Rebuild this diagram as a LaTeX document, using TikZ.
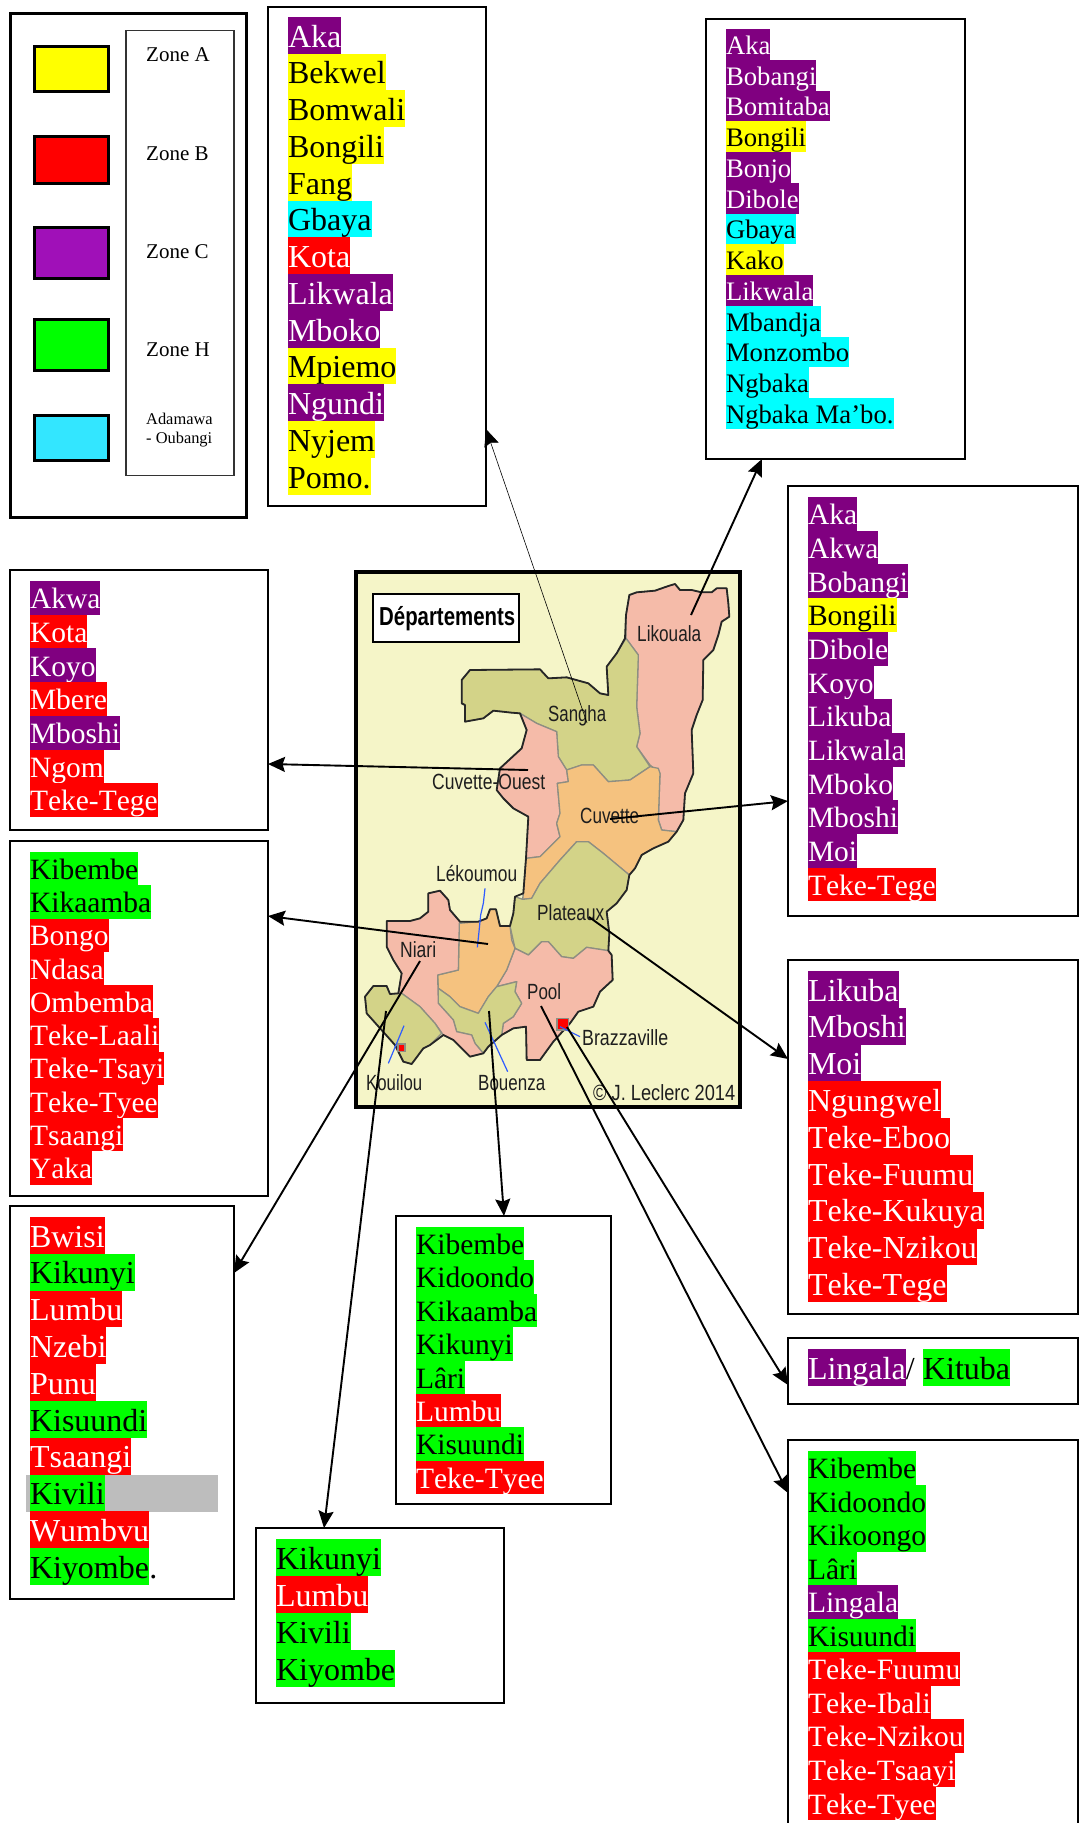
\documentclass[tikz,border=0pt]{standalone}
\usepackage{fontspec}
\usepackage{graphicx}
\usetikzlibrary{arrows.meta}
\setmainfont[Kerning=Off]{Liberation Serif}
\newfontfamily\mapfont{Liberation Sans}
\definecolor{bgP}{HTML}{800080}\definecolor{fgP}{HTML}{FFFFFF}
\definecolor{bgR}{HTML}{FF0000}\definecolor{fgR}{HTML}{FFFFFF}
\definecolor{bgY}{HTML}{FFFF00}\definecolor{fgY}{HTML}{000000}
\definecolor{bgG}{HTML}{00FF00}\definecolor{fgG}{HTML}{000000}
\definecolor{bgC}{HTML}{00FFFF}\definecolor{fgC}{HTML}{000000}
\definecolor{mapbg}{HTML}{F5F5C8}
\definecolor{mappink}{HTML}{F5BBA9}
\definecolor{mapolive}{HTML}{D3D388}
\definecolor{maporange}{HTML}{F5C27F}
\definecolor{mapgrey}{HTML}{8E8E82}
\definecolor{mapink}{HTML}{1E1E1E}
\definecolor{riverblue}{HTML}{2F5CFF}
\tikzset{
  listbox/.style={draw=black,line width=2pt,fill=white,inner sep=0pt,outer sep=0pt,anchor=north west},
  swatch/.style={draw=black,line width=3pt,inner sep=0pt,outer sep=0pt,anchor=north west},
  langitem/.style={inner sep=0pt,outer sep=0pt,anchor=north west},
  zonetext/.style={inner sep=0pt,anchor=base west,font=\fontsize{21pt}{21pt}\selectfont},
  zonesmall/.style={inner sep=0pt,anchor=base west,font=\fontsize{16.4pt}{16.4pt}\selectfont},
  maptext/.style={inner sep=0pt,anchor=base west,text=mapink,font=\fontsize{22pt}{22pt}\selectfont},
  region/.style={draw=mapgrey,line width=1.3pt,line join=round},
  coast/.style={draw=black!85,line width=1.8pt,line join=round},
  river/.style={draw=riverblue,line width=1.2pt},
  link/.style={-{Stealth[length=17pt,width=15pt,inset=2.5pt]},line width=1.9pt,black},
  thinlink/.style={-{Stealth[length=17pt,width=15pt,inset=2.5pt]},line width=0.6pt,black},
}
% #1 prefix, #2 x, #3 top y, #4 pitch, #5 font size, #6 list
\newcommand{\langlist}[6]{%
  \foreach \ltxt/\lcol [count=\i] in {#6}{%
    \node[langitem,fill=bg\lcol,text=fg\lcol,
      text height=0.82*#4pt,text depth=0.18*#4pt,
      font=\fontsize{#5pt}{#5pt}\selectfont] (#1\i) at ({#2},{#3+(\i-1)*#4}) {\ltxt};
  }%
}
\newcommand{\maplab}[5]{\node[maptext] (#1) at (#2,#3) {\resizebox{#4pt}{\height}{\mapfont #5}};}
\begin{document}
\begin{tikzpicture}[x=1pt,y=-1pt]
\useasboundingbox (0,0) rectangle (1079,1823);
\fill[white] (0,0) rectangle (1079,1823);

% ---------- legend ----------
\node[listbox,line width=3pt,minimum width=236pt,minimum height=504pt] (legend) at (10,13) {};
\node[swatch,fill=bgY,minimum width=73.5pt,minimum height=45pt] (swA) at (34.5,46) {};
\node[swatch,fill=bgR,minimum width=73.5pt,minimum height=47pt] (swB) at (34.5,136) {};
\node[swatch,fill={rgb,255:red,160;green,16;blue,184},minimum width=73.5pt,minimum height=51pt] (swC) at (34.5,227) {};
\node[swatch,fill=bgG,minimum width=73.5pt,minimum height=51pt] (swH) at (34.5,319) {};
\node[swatch,fill={rgb,255:red,51;green,230;blue,255},minimum width=73.5pt,minimum height=45pt] (swO) at (34.5,415) {};
\node[listbox,line width=1.4pt,draw=black!80,minimum width=108pt,minimum height=445pt] (zonebox) at (126,30.5) {};
\node[zonetext] (zA) at (146,61) {Zone A};
\node[zonetext] (zB) at (146,160) {Zone B};
\node[zonetext] (zC) at (146,258) {Zone C};
\node[zonetext] (zH) at (146,356) {Zone H};
\node[zonesmall] (zO1) at (146,424) {Adamawa};
\node[zonesmall] (zO2) at (146,443) {- Oubangi};

% ---------- list boxes ----------
\node[listbox,minimum width=218pt,minimum height=498.5pt] (boxA) at (268,7) {};
\langlist{a}{288}{17}{36.74}{32}{Aka/P,Bekwel/Y,Bomwali/Y,Bongili/Y,Fang/Y,Gbaya/C,Kota/R,Likwala/P,Mboko/P,Mpiemo/Y,Ngundi/P,Nyjem/Y,Pomo./Y}

\node[listbox,minimum width=259pt,minimum height=440pt] (boxB) at (706,19) {};
\langlist{b}{726}{29}{30.77}{26.7}{Aka/P,Bobangi/P,Bomitaba/P,Bongili/Y,Bonjo/P,Dibole/P,Gbaya/C,Kako/Y,Likwala/P,Mbandja/C,Monzombo/C,Ngbaka/C,Ngbaka Ma’bo./C}

\node[listbox,minimum width=290pt,minimum height=430pt] (boxC) at (788,486) {};
\langlist{c}{808}{497}{33.7}{29.5}{Aka/P,Akwa/P,Bobangi/P,Bongili/Y,Dibole/P,Koyo/P,Likuba/P,Likwala/P,Mboko/P,Mboshi/P,Moi/P,Teke-Tege/R}

\node[listbox,minimum width=290pt,minimum height=354pt] (boxD) at (788,960) {};
\langlist{d}{808}{971}{36.8}{32}{Likuba/P,Mboshi/P,Moi/P,Ngungwel/R,Teke-Eboo/R,Teke-Fuumu/R,Teke-Kukuya/R,Teke-Nzikou/R,Teke-Tege/R}

\node[listbox,minimum width=290pt,minimum height=66pt] (boxE) at (788,1338) {};
\langlist{e}{808}{1349}{37}{32}{Lingala/P}
\node[langitem,fill=bgG,text=fgG,text height=0.82*37pt,text depth=0.18*37pt,font=\fontsize{32pt}{32pt}\selectfont] (eK) at (923,1349) {Kituba};
\node[inner sep=0pt,anchor=base west,font=\fontsize{32pt}{32pt}\selectfont] (eS) at (e1.base east) {/};

\node[listbox,minimum width=290pt,minimum height=400pt] (boxF) at (788,1440) {};
\langlist{f}{808}{1451}{33.55}{29.5}{Kibembe/G,Kidoondo/G,Kikoongo/G,Lâri/G,Lingala/P,Kisuundi/G,Teke-Fuumu/R,Teke-Ibali/R,Teke-Nzikou/R,Teke-Tsaayi/R,Teke-Tyee/R}

\node[listbox,minimum width=258pt,minimum height=260pt] (boxG) at (10,570) {};
\langlist{g}{30}{581}{33.7}{29.5}{Akwa/P,Kota/R,Koyo/P,Mbere/R,Mboshi/P,Ngom/R,Teke-Tege/R}

\node[listbox,minimum width=258pt,minimum height=354.5pt] (boxH) at (10,841) {};
\langlist{h}{30}{852}{33.25}{29.5}{Kibembe/G,Kikaamba/G,Bongo/R,Ndasa/R,Ombemba/R,Teke-Laali/R,Teke-Tsayi/R,Teke-Tyee/R,Tsaangi/R,Yaka/R}

\node[listbox,minimum width=224pt,minimum height=392.6pt] (boxI) at (10,1206) {};
\node[fill=black!26,inner sep=0pt,outer sep=0pt,anchor=north west,minimum width=192pt,minimum height=37pt] (greyband) at (26,1474.8) {};
\langlist{i}{30}{1217}{36.8}{32}{Bwisi/R,Kikunyi/G,Lumbu/R,Nzebi/R,Punu/R,Kisuundi/G,Tsaangi/R,Kivili/G,Wumbvu/R,Kiyombe/G}
\node[inner sep=0pt,anchor=base west,font=\fontsize{32pt}{32pt}\selectfont] (iP) at (i10.base east) {.};

\node[listbox,minimum width=248pt,minimum height=175pt] (boxJ) at (256,1528) {};
\langlist{j}{276}{1539}{37}{32}{Kikunyi/G,Lumbu/R,Kivili/G,Kiyombe/G}

\node[listbox,minimum width=215pt,minimum height=288pt] (boxK) at (396,1216) {};
\langlist{k}{416}{1227}{33.4}{29.5}{Kibembe/G,Kidoondo/G,Kikaamba/G,Kikunyi/G,Lâri/G,Lumbu/R,Kisuundi/G,Teke-Tyee/R}

% ---------- map ----------
\node[draw=black,line width=4pt,fill=mapbg,inner sep=0pt,outer sep=0pt,anchor=north west,minimum width=384pt,minimum height=535pt] (mapframe) at (356,572) {};
\begin{scope}[shift={(340pt,-560pt)},x=0.33333pt,y=-0.33333pt]
% regions
\path[region,fill=mappink] (868,105)--(890,97)--(945,92)--(985,78)--(1005,72)--(1020,90)--(1055,90)--(1085,97)--(1115,97)--(1130,85)--(1160,85)--(1165,130)--(1168,170)--(1145,185)--(1135,225)--(1120,270)--(1090,300)--(1088,420)--(1070,465)--(1055,510)--(1060,640)--(1035,700)--(1030,780)--(1010,815)--(965,810)--(955,780)--(960,640)--(930,615)--(890,560)--(900,520)--(890,440)--(895,285)--(858,235)--(858,165)--cycle;
\path[region,fill=mapolive] (540,460)--(590,490)--(650,515)--(655,590)--(680,630)--(725,615)--(760,615)--(805,665)--(870,660)--(930,620)--(890,560)--(900,520)--(890,440)--(895,285)--(858,235)--(830,280)--(800,320)--(805,405)--(780,400)--(745,370)--(680,352)--(625,355)--(600,328)--(390,330)--(365,360)--(365,430)--(375,435)--(375,485)--(430,475)--(460,452)--(515,458)--cycle;
\path[region,fill=mappink] (540,460)--(560,510)--(545,565)--(480,625)--(470,690)--(490,715)--(520,745)--(565,770)--(558,895)--(600,890)--(660,830)--(650,790)--(660,760)--(652,670)--(685,665)--(680,630)--(655,590)--(650,515)--(590,490)--cycle;
\path[region,fill=maporange] (680,630)--(725,615)--(760,615)--(805,665)--(870,660)--(930,620)--(955,625)--(960,640)--(955,780)--(965,810)--(1010,815)--(985,845)--(940,865)--(905,885)--(885,925)--(868,945)--(820,905)--(790,880)--(745,845)--(710,845)--(660,900)--(600,970)--(575,1015)--(548,1018)--(550,1000)--(558,895)--(600,890)--(660,830)--(650,790)--(660,760)--(652,670)--(685,665)--cycle;
\path[region,fill=mapolive] (660,900)--(710,845)--(745,845)--(790,880)--(820,905)--(868,945)--(860,990)--(830,1030)--(800,1055)--(808,1120)--(805,1172)--(740,1162)--(700,1195)--(665,1190)--(625,1145)--(605,1145)--(565,1185)--(525,1165)--(510,1098)--(520,1060)--(525,1010)--(548,1018)--(575,1015)--(600,970)--cycle;
\path[region,fill=mappink] (525,1165)--(565,1185)--(605,1145)--(625,1145)--(665,1190)--(700,1195)--(740,1162)--(805,1172)--(815,1185)--(818,1260)--(780,1295)--(760,1340)--(715,1355)--(690,1390)--(640,1445)--(600,1500)--(560,1500)--(558,1400)--(520,1405)--(485,1425)--(490,1390)--(520,1370)--(545,1330)--(525,1295)--(530,1265)--(470,1280)--(500,1230)--cycle;
\path[region,fill=maporange] (358,1090)--(415,1085)--(440,1075)--(450,1048)--(468,1048)--(480,1098)--(510,1098)--(515,1140)--(525,1165)--(500,1230)--(470,1280)--(445,1310)--(415,1360)--(360,1340)--(330,1310)--(295,1285)--(293,1245)--(355,1230)--cycle;
\path[region,fill=mapolive] (295,1285)--(330,1310)--(360,1340)--(415,1360)--(445,1310)--(470,1280)--(530,1265)--(525,1295)--(545,1330)--(520,1370)--(490,1390)--(485,1425)--(445,1460)--(430,1480)--(405,1450)--(395,1425)--(350,1415)--(340,1380)--(295,1330)--cycle;
\path[region,fill=mappink] (140,1083)--(210,1083)--(240,1075)--(265,1055)--(265,1000)--(300,992)--(325,1020)--(330,1050)--(360,1085)--(358,1090)--(355,1230)--(293,1245)--(295,1330)--(340,1380)--(350,1415)--(395,1425)--(405,1450)--(430,1480)--(390,1490)--(340,1440)--(310,1425)--(285,1390)--(240,1340)--(185,1300)--(175,1300)--(185,1240)--(160,1200)--(140,1160)--cycle;
\path[region,fill=mapolive] (80,1360)--(75,1310)--(100,1278)--(140,1278)--(150,1302)--(185,1300)--(240,1340)--(285,1390)--(305,1420)--(270,1455)--(250,1465)--(215,1512)--(190,1505)--(165,1455)--cycle;
% outer coast
\draw[coast] (868,105)--(890,97)--(945,92)--(985,78)--(1005,72)--(1020,90)--(1055,90)--(1085,97)--(1115,97)--(1130,85)--(1160,85)--(1165,130)--(1168,170)--(1145,185)--(1135,225)--(1120,270)--(1090,300)--(1088,420)--(1070,465)--(1055,510)--(1060,640)--(1035,700)--(1030,780)--(1010,815)--(985,845)--(940,865)--(905,885)--(885,925)--(868,945)--(860,990)--(830,1030)--(800,1055)--(808,1120)--(805,1172)--(815,1185)--(818,1260)--(780,1295)--(760,1340)--(715,1355)--(690,1390)--(640,1445)--(600,1500)--(560,1500)--(558,1400)--(520,1405)--(485,1425)--(445,1460)--(430,1480)--(390,1490)--(340,1440)--(310,1425)--(270,1455)--(250,1465)--(215,1512)--(190,1505)--(165,1455)--(80,1360)--(75,1310)--(100,1278)--(140,1278)--(150,1302)--(175,1300)--(185,1240)--(160,1200)--(140,1160)--(140,1083)--(210,1083)--(240,1075)--(265,1055)--(265,1000)--(300,992)--(325,1020)--(330,1050)--(360,1085)--(415,1085)--(440,1075)--(450,1048)--(468,1048)--(480,1098)--(510,1098)--(520,1060)--(525,1010)--(550,1000)--(558,895)--(565,770)--(520,745)--(490,715)--(470,690)--(480,625)--(545,565)--(560,510)--(540,460)--(515,458)--(460,452)--(430,475)--(375,485)--(375,435)--(365,430)--(365,360)--(390,330)--(600,328)--(625,355)--(680,352)--(745,370)--(780,400)--(805,405)--(800,320)--(830,280)--(855,235)--(858,165)--cycle;
% towns
\fill[mapgrey] (649,1374) rectangle (688,1412);
\fill[bgR] (655,1378) rectangle (683,1406);
\fill[mapgrey] (172,1450) rectangle (198,1477);
\fill[bgR] (176,1455) rectangle (193,1472);
% rivers
\draw[river] (435,985)--(430,1030)--(422,1065)--(417,1115)--(412,1162);
\draw[river] (192,1397)--(145,1510);
\draw[river] (435,1387)--(503,1535);
\draw[river] (660,1400)--(720,1430);
\end{scope}
\node[draw=black,line width=1.6pt,fill=white,inner sep=0pt,outer sep=0pt,anchor=north west,minimum width=146pt,minimum height=48pt] (titlebox) at (373,594) {};
\node[inner sep=0pt,anchor=base west,text=black,font=\fontsize{26pt}{26pt}\selectfont\bfseries] (title) at (379,625) {\resizebox{136pt}{\height}{\mapfont\bfseries Départements}};
\maplab{lLik}{637}{641}{64}{Likouala}
\maplab{lSan}{548}{721}{58}{Sangha}
\maplab{lCvo}{432}{789}{113}{Cuvette-Ouest}
\maplab{lCuv}{580}{823}{59}{Cuvette}
\maplab{lLek}{436}{881}{81}{Lékoumou}
\maplab{lPla}{537}{920}{67}{Plateaux}
\maplab{lNia}{400}{957}{36}{Niari}
\maplab{lPoo}{527}{999}{34}{Pool}
\maplab{lBra}{582}{1045}{86}{Brazzaville}
\maplab{lKou}{366}{1090}{56}{Kouilou}
\maplab{lBou}{478}{1090}{67}{Bouenza}
\maplab{lCop}{593}{1100}{142}{© J. Leclerc 2014}

% ---------- connectors ----------
\coordinate (fSan) at (587,723);  \coordinate (tSan) at (488,429);
\coordinate (fLik) at (691,615);  \coordinate (tLik) at (762,459);
\coordinate (fCvo) at (528,770);  \coordinate (tCvo) at (268,764);
\coordinate (fCuv) at (610,819);  \coordinate (tCuv) at (788,801);
\coordinate (fLek) at (488,944);  \coordinate (tLek) at (268,916);
\coordinate (fPla) at (589,917);  \coordinate (tPla) at (788,1059);
\coordinate (fNia) at (420,961);  \coordinate (tNia) at (234,1273);
\coordinate (fKou) at (386,1011); \coordinate (tKou) at (324,1528);
\coordinate (fBou) at (489,1011); \coordinate (tBou) at (504,1216);
\coordinate (fBra) at (567,1027); \coordinate (tBra) at (788,1385);
\coordinate (fPoo) at (541,1006); \coordinate (tPoo) at (788,1493);
\draw[thinlink] (fSan) -- (boxA.east |- tSan);
\draw[link] (fLik) -- (tLik |- boxB.south);
\draw[link] (fCvo) -- (boxG.east |- tCvo);
\draw[link] (fCuv) -- (boxC.west |- tCuv);
\draw[link] (fLek) -- (boxH.east |- tLek);
\draw[link] (fPla) -- (boxD.west |- tPla);
\draw[link] (fNia) -- (boxI.east |- tNia);
\draw[link] (fKou) -- (tKou |- boxJ.north);
\draw[link] (fBou) -- (tBou |- boxK.north);
\draw[link] (fBra) -- (boxE.west |- tBra);
\draw[link] (fPoo) -- (boxF.west |- tPoo);
\end{tikzpicture}
\end{document}
